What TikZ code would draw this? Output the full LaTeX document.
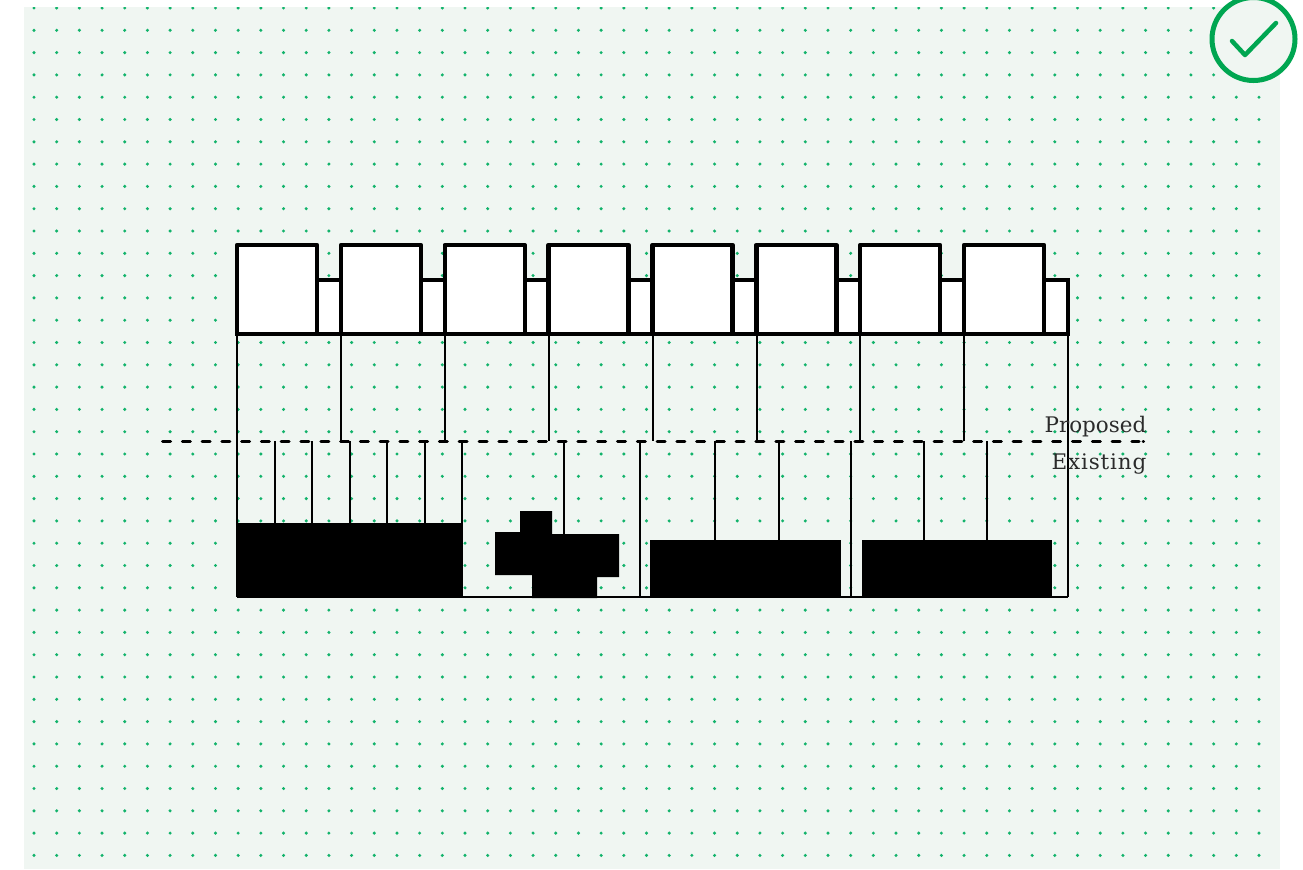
\documentclass[tikz,border=0pt]{standalone}
\usepackage{fontspec}
\setmainfont{DejaVu Serif}
\definecolor{sitebg}{HTML}{F0F6F2}
\definecolor{sitedot}{HTML}{12B36B}
\definecolor{tickgreen}{HTML}{00A651}
\definecolor{labelgrey}{HTML}{2B2B2B}
\tikzset{
  heavy/.style={line width=0.044cm, black},
  wall/.style={line width=0.024cm, black},
  planlabel/.style={anchor=base east, inner sep=0pt, text=labelgrey, font=\fontsize{6.1pt}{7pt}\selectfont}
}
\begin{document}
\begin{tikzpicture}[x=0.01cm,y=-0.01cm]
\useasboundingbox (0,0) rectangle (1303,869);
% Background with dot grid
\fill[sitebg] (24,7) rectangle (1280,869);
\begin{scope}
\clip (24,7) rectangle (1280,869);
\foreach \i in {0,...,54}
  \foreach \j in {0,...,38}
    \fill[sitedot] ({34+22.685*\i},{8+22.3*\j}) circle (1.7);
\end{scope}
% Proposed: strip and white blocks
\draw[heavy, fill=white] (237,280) rectangle (1068,334);
\foreach \x in {237,340.9,444.7,548.6,652.4,756.3,860.1,964}
  \draw[heavy, fill=white, line join=round] (\x,334) rectangle ({\x+80},245);
\foreach \x in {237,341,445,549,653,757,860,964,1068}
  \draw[wall] (\x,334) -- (\x,441);
% Existing: walls and bottom line
\foreach \x in {237,275,312,350,387,425,462,564,640,715,779,851,924,987,1068}
  \draw[wall] (\x,441) -- (\x,597);
\draw[wall] (237,597) -- (1068,597);
% Existing buildings
\fill (237,523) rectangle (462,598);
\fill (520,511) -- (552,511) -- (552,534) -- (619,534) -- (619,577) -- (597,577) -- (597,598)
  -- (532,598) -- (532,575) -- (495,575) -- (495,532) -- (520,532) -- cycle;
\fill (650,540) rectangle (841,598);
\fill (862,540) rectangle (1052,598);
% Dashed line with labels
\draw[line width=0.03cm, black, line cap=round, dash pattern=on 0.08cm off 0.1177cm] (162.5,441) -- (1139,441) (1143,441) -- (1143.5,441);
\node[planlabel] (proposed) at (1147,432) {Proposed};
\node[planlabel] (existing) at (1147,469) {\addfontfeatures{LetterSpace=4}Existing};
% Tick badge
\draw[tickgreen, line width=0.05cm, fill=sitebg] (1253.5,39) circle (41.5);
\draw[tickgreen, line width=0.045cm, line cap=round, line join=round] (1232,41) -- (1245,55) -- (1276,23);
\end{tikzpicture}
\end{document}
